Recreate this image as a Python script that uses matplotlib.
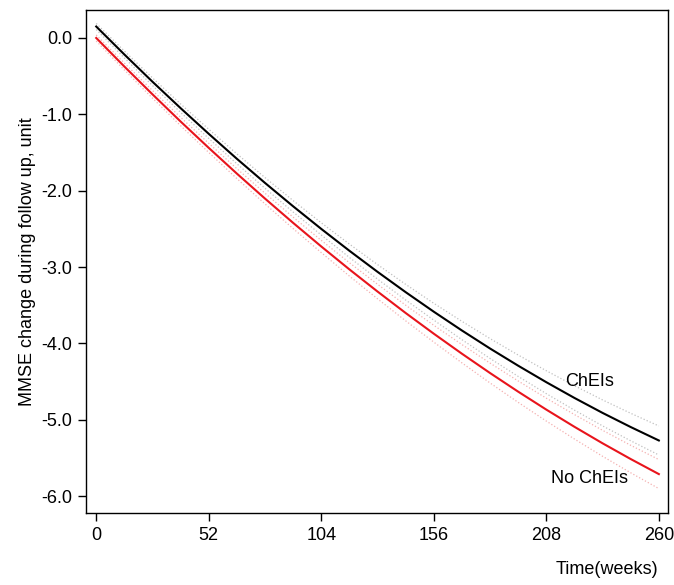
import matplotlib
matplotlib.use("Agg")
import matplotlib.pyplot as plt
import numpy as np

weeks = [0, 13, 26, 39, 52, 65, 78, 91, 104, 117, 130, 143, 156, 169, 182, 195, 208, 221, 234, 247, 260]
chei = [0.15, -0.216, -0.573, -0.919, -1.255, -1.582, -1.898, -2.204, -2.500, -2.786, -3.062,
        -3.328, -3.584, -3.830, -4.066, -4.291, -4.507, -4.713, -4.909, -5.094, -5.270]
no_chei = [0.0, -0.374, -0.738, -1.094, -1.439, -1.776, -2.103, -2.421, -2.730, -3.030, -3.320,
           -3.601, -3.872, -4.134, -4.387, -4.631, -4.866, -5.091, -5.307, -5.513, -5.710]
ci_half = [0.04, 0.045, 0.05, 0.055, 0.06, 0.065, 0.07, 0.075, 0.08, 0.0875, 0.095,
           0.1025, 0.11, 0.12, 0.13, 0.14, 0.15, 0.16, 0.17, 0.18, 0.19]

xticks = [0, 52, 104, 156, 208, 260]
yticks = [0.0, -1.0, -2.0, -3.0, -4.0, -5.0, -6.0]

plt.rcParams['font.family'] = ['Liberation Sans', 'DejaVu Sans']

w = np.array(weeks)
c = np.array(chei)
n = np.array(no_chei)
h = np.array(ci_half)

fig = plt.figure(figsize=(6.74, 5.85), dpi=100)
ax = fig.add_axes([0.128, 0.123, 0.863, 0.860])

ax.plot(w, c + h, color='#c0c0c0', lw=0.9, ls=':')
ax.plot(w, c - h, color='#c0c0c0', lw=0.9, ls=':')
ax.plot(w, n + h, color='#f4b0b0', lw=0.9, ls=':')
ax.plot(w, n - h, color='#f4b0b0', lw=0.9, ls=':')
ax.plot(w, n, color='#e8141c', lw=1.5)
ax.plot(w, c, color='black', lw=1.5)

ax.text(228, -4.50, 'ChEIs', fontsize=13, ha='center', va='center')
ax.text(228, -5.77, 'No ChEIs', fontsize=13, ha='center', va='center')

ax.set_xlim(-4.6, 264.2)
ax.set_ylim(-6.22, 0.367)
ax.set_xticks(xticks)
ax.set_xticklabels([str(v) for v in xticks])
ax.set_yticks(yticks)
ax.set_yticklabels([f'{v:.1f}' for v in yticks])
ax.tick_params(axis='both', labelsize=13, length=6, width=1, direction='out', pad=4)
for s in ax.spines.values():
    s.set_linewidth(1.0)

ax.set_ylabel('MMSE change during follow up, unit', fontsize=13, labelpad=4)
fig.text(0.977, 0.012, 'Time(weeks)', fontsize=13, ha='right', va='bottom')

fig.savefig('out.png', dpi=100)
